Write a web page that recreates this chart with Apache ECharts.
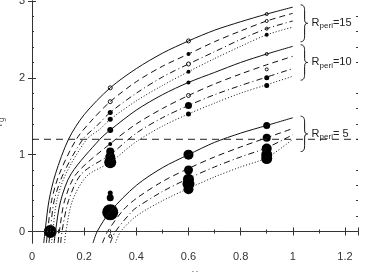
<!DOCTYPE html>
<html>
<head>
<meta charset="utf-8">
<script src="https://cdn.jsdelivr.net/npm/echarts@6/dist/echarts.min.js"></script>
<style>
  html, body { margin: 0; padding: 0; background: #fff; }
  #chart { width: 365px; height: 272px; }
</style>
</head>
<body>
<div id="chart"></div>
<script>
// curves, R_peri = 15
const solid15 = [[0.045,-0.15],[0.05,0],[0.065,0.4],[0.09,0.75],[0.14,1.2],[0.2,1.52],[0.3,1.87],[0.4,2.12],[0.5,2.32],[0.6,2.48],[0.7,2.62],[0.8,2.73],[0.9,2.83],[1.0,2.92]];
const dashed15 = [[0.055,-0.15],[0.06,0],[0.075,0.4],[0.105,0.75],[0.17,1.2],[0.23,1.45],[0.3,1.69],[0.4,1.95],[0.5,2.15],[0.6,2.31],[0.7,2.47],[0.8,2.61],[0.9,2.74],[1.0,2.84]];
const dashdot15 = [[0.065,-0.15],[0.07,0],[0.085,0.4],[0.12,0.75],[0.195,1.2],[0.25,1.38],[0.3,1.55],[0.4,1.8],[0.5,2.01],[0.6,2.18],[0.7,2.34],[0.8,2.5],[0.9,2.64],[1.0,2.74]];
const dotted15 = [[0.075,-0.15],[0.08,0],[0.095,0.4],[0.13,0.75],[0.21,1.2],[0.26,1.33],[0.3,1.46],[0.4,1.7],[0.5,1.9],[0.6,2.08],[0.7,2.25],[0.8,2.41],[0.9,2.56],[1.0,2.66]];
// curves, R_peri = 10
const solid10 = [[0.085,-0.15],[0.09,0],[0.11,0.4],[0.15,0.75],[0.26,1.2],[0.3,1.32],[0.4,1.58],[0.5,1.78],[0.6,1.94],[0.7,2.07],[0.8,2.2],[0.9,2.31],[1.0,2.41]];
const dashed10 = [[0.1,-0.15],[0.105,0],[0.125,0.4],[0.17,0.75],[0.31,1.17],[0.4,1.4],[0.5,1.6],[0.6,1.77],[0.7,1.92],[0.8,2.05],[0.9,2.17],[1.0,2.28]];
const dashdot10 = [[0.11,-0.15],[0.115,0],[0.14,0.4],[0.19,0.75],[0.3,1.0],[0.4,1.28],[0.5,1.48],[0.6,1.64],[0.7,1.78],[0.8,1.9],[0.9,2.01],[1.0,2.12]];
const dotted10 = [[0.125,-0.15],[0.13,0],[0.155,0.4],[0.21,0.72],[0.3,0.9],[0.4,1.17],[0.5,1.37],[0.6,1.53],[0.7,1.67],[0.8,1.8],[0.9,1.91],[1.0,2.02]];
// curves, R_peri = 5
const solid5 = [[0.234,-0.15],[0.25,0],[0.3,0.26],[0.4,0.6],[0.5,0.83],[0.6,1.0],[0.7,1.16],[0.8,1.28],[0.9,1.38],[1.0,1.48]];
const dashed5 = [[0.27,-0.15],[0.29,0],[0.35,0.28],[0.4,0.43],[0.5,0.65],[0.6,0.82],[0.7,0.97],[0.8,1.1],[0.9,1.22],[1.0,1.34]];
const dashdot5 = [[0.3,-0.15],[0.32,0],[0.38,0.25],[0.4,0.31],[0.5,0.52],[0.6,0.69],[0.7,0.84],[0.8,0.97],[0.9,1.09],[1.0,1.26]];
const dotted5 = [[0.32,-0.15],[0.34,0],[0.4,0.2],[0.5,0.4],[0.6,0.56],[0.7,0.71],[0.8,0.84],[0.9,0.96],[1.0,1.2]];

// markers: [x, y, diameter]
const filledPts = [
  [0.07,0,13],
  [0.3,1.55,5],[0.3,1.46,5],[0.3,1.32,6],[0.3,1.14,4],[0.3,1.04,8],[0.3,0.97,10],[0.3,0.9,12],
  [0.3,0.5,5],[0.3,0.44,7],[0.3,0.25,16],
  [0.6,2.31,4],[0.6,2.08,4],[0.6,1.94,4],[0.6,1.64,7],[0.6,1.53,5],
  [0.6,1.0,10],[0.6,0.8,9],[0.6,0.68,11],[0.6,0.62,12],[0.6,0.55,10],
  [0.9,2.56,4],[0.9,2.0,5],[0.9,1.9,5],
  [0.9,1.38,7],[0.9,1.22,8],[0.9,1.08,10],[0.9,1.0,11],[0.9,0.95,11]
];
const openPts = [
  [0.3,1.87,4],[0.3,1.69,4],[0.3,-0.06,3],
  [0.6,2.48,4],[0.6,2.18,4],[0.6,1.77,4],
  [0.9,2.83,3],[0.9,2.74,3],[0.9,2.64,3],[0.9,2.31,3],[0.9,2.11,3]
];

const refLine = [[0,1.2],[1.25,1.2]];
const zeroLine = [[0,0],[1,0]];

const yMajor = [0, 1, 2, 3];
const groups = [
  {label: '15', top: 2.95, bottom: 2.47},
  {label: '10', top: 2.43, bottom: 1.97},
  {label: ' 5', top: 1.5, bottom: 1.04}
];

// minor y ticks every 0.2
const yMinor = [];
for (let i = 0; i <= 15; i++) {
  if (i % 5 !== 0) yMinor.push(+(i * 0.2).toFixed(1));
}

const chart = echarts.init(document.getElementById('chart'));

function curve(data, type) {
  let dash = 'solid';
  if (type === 'dashed') dash = [6, 4];
  if (type === 'dashdot') dash = [6, 3, 1, 3];
  if (type === 'dotted') dash = [1, 2];
  return {
    type: 'line', data: data, showSymbol: false, smooth: 0.3, silent: true,
    xAxisIndex: 0, yAxisIndex: 0,
    lineStyle: {color: '#111', width: 1, type: dash}
  };
}

const tickColor = '#333';

function xAx(pos, labels) {
  return {
    type: 'value', min: 0, max: 1.25, interval: 0.2, position: pos,
    name: labels ? 'μ' : '', nameLocation: 'middle', nameGap: 26,
    nameTextStyle: {color: '#555', fontSize: 11, fontFamily: 'DejaVu Sans'},
    axisLine: {lineStyle: {color: tickColor, width: 1}},
    axisTick: {inside: true, length: 4, lineStyle: {color: tickColor}},
    minorTick: {show: true, splitNumber: 2, length: 2, lineStyle: {color: tickColor}},
    splitLine: {show: false}, minorSplitLine: {show: false},
    axisLabel: {show: labels, color: '#333', fontSize: 11, fontFamily: 'Liberation Sans', margin: 8,
      formatter: v => String(+v.toFixed(1))}
  };
}

function yAx(pos, labels, ticks, len, line) {
  return {
    type: 'value', min: -0.15, max: 3, position: pos,
    name: labels ? 'r{s|g}' : '', nameLocation: 'middle', nameGap: 26, nameRotate: 90,
    nameTextStyle: {color: '#555', fontSize: 11, fontFamily: 'DejaVu Sans',
      rich: {s: {fontSize: 8, padding: [6, 0, 0, 0]}}},
    axisLine: {show: line, lineStyle: {color: tickColor, width: 1}},
    axisTick: {inside: true, length: len, customValues: ticks, lineStyle: {color: tickColor}},
    splitLine: {show: false},
    axisLabel: {show: labels, customValues: yMajor, color: '#333', fontSize: 11,
      fontFamily: 'Liberation Sans', margin: 7}
  };
}

chart.setOption({
  animation: false,
  grid: {left: 32, right: 7, top: 1, bottom: 29, containLabel: false, outerBoundsMode: 'none'},
  xAxis: [xAx('bottom', true), xAx('top', false)],
  yAxis: [
    yAx('left', true, yMajor, 4, true),
    yAx('right', false, yMajor, 4, true),
    yAx('left', false, yMinor, 2, false),
    yAx('right', false, yMinor, 2, false)
  ],
  series: [
    curve(solid15, 'solid'), curve(dashed15, 'dashed'), curve(dashdot15, 'dashdot'), curve(dotted15, 'dotted'),
    curve(solid10, 'solid'), curve(dashed10, 'dashed'), curve(dashdot10, 'dashdot'), curve(dotted10, 'dotted'),
    curve(solid5, 'solid'), curve(dashed5, 'dashed'), curve(dashdot5, 'dashdot'), curve(dotted5, 'dotted'),
    {type: 'line', data: refLine, showSymbol: false, silent: true,
      lineStyle: {color: '#222', width: 1, type: [7, 5]}},
    {type: 'line', data: zeroLine, showSymbol: false, silent: true,
      lineStyle: {color: '#444', width: 1, type: [1, 2]}},
    {type: 'scatter', data: filledPts, symbolSize: d => d[2], silent: true,
      itemStyle: {color: '#000', opacity: 1}},
    {type: 'scatter', data: openPts, symbolSize: d => d[2], silent: true,
      itemStyle: {color: '#fff', borderColor: '#111', borderWidth: 1, opacity: 1}}
  ]
});

// braces + labels on the right
const gfx = [];
const st = {stroke: '#111', lineWidth: 1, fill: null};
groups.forEach(g => {
  const p1 = chart.convertToPixel({xAxisIndex: 0, yAxisIndex: 0}, [1.03, g.top]);
  const p2 = chart.convertToPixel({xAxisIndex: 0, yAxisIndex: 0}, [1.03, g.bottom]);
  const x = p1[0], t = p1[1], b = p2[1], m = (t + b) / 2;
  gfx.push({type: 'bezierCurve', silent: true, style: st,
    shape: {x1: x, y1: t, cpx1: x + 3, cpy1: t, cpx2: x + 4, cpy2: t + 2, x2: x + 4, y2: t + 6}});
  gfx.push({type: 'line', silent: true, style: st,
    shape: {x1: x + 4, y1: t + 6, x2: x + 4, y2: m - 4}});
  gfx.push({type: 'bezierCurve', silent: true, style: st,
    shape: {x1: x + 4, y1: m - 4, cpx1: x + 4, cpy1: m - 1, cpx2: x + 5, cpy2: m, x2: x + 7, y2: m}});
  gfx.push({type: 'bezierCurve', silent: true, style: st,
    shape: {x1: x + 7, y1: m, cpx1: x + 5, cpy1: m, cpx2: x + 4, cpy2: m + 1, x2: x + 4, y2: m + 4}});
  gfx.push({type: 'line', silent: true, style: st,
    shape: {x1: x + 4, y1: m + 4, x2: x + 4, y2: b - 6}});
  gfx.push({type: 'bezierCurve', silent: true, style: st,
    shape: {x1: x + 4, y1: b - 6, cpx1: x + 4, cpy1: b - 2, cpx2: x + 3, cpy2: b, x2: x, y2: b}});
  gfx.push({
    type: 'text', silent: true, x: x + 11, y: m,
    style: {text: 'R{s|peri}=' + g.label, verticalAlign: 'middle', fill: '#222',
      font: '11px "Liberation Sans"',
      rich: {s: {fontSize: 8, fill: '#222', fontFamily: 'Liberation Sans', padding: [6, 0, 0, 0]}}}
  });
});
chart.setOption({graphic: gfx});
</script>
</body>
</html>
